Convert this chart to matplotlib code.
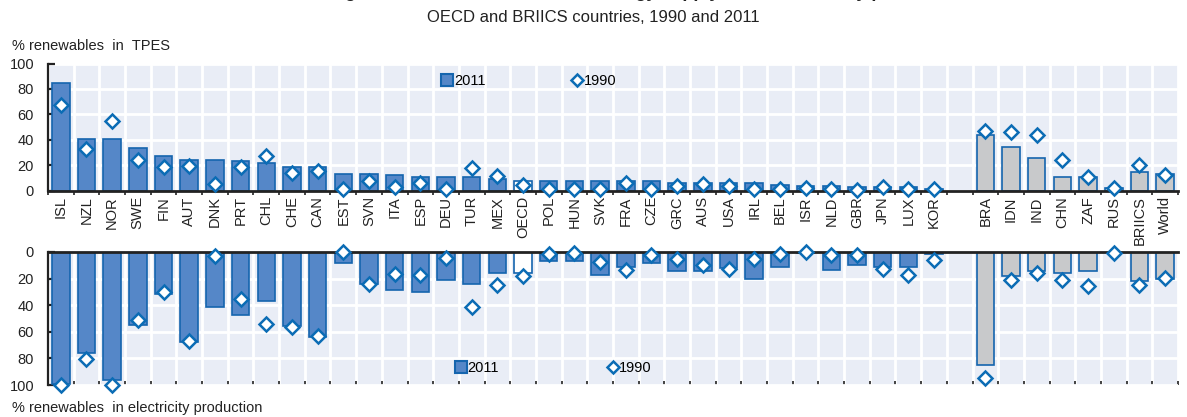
import numpy as np
import matplotlib
matplotlib.use('Agg')
import matplotlib.pyplot as plt
from matplotlib.lines import Line2D

plt.rcParams['font.family'] = ['Liberation Sans', 'DejaVu Sans']

# OECD countries (sorted by TPES share), then BRIICS group
oecd = ['ISL', 'NZL', 'NOR', 'SWE', 'FIN', 'AUT', 'DNK', 'PRT', 'CHL', 'CHE', 'CAN',
        'EST', 'SVN', 'ITA', 'ESP', 'DEU', 'TUR', 'MEX', 'OECD', 'POL', 'HUN', 'SVK',
        'FRA', 'CZE', 'GRC', 'AUS', 'USA', 'IRL', 'BEL', 'ISR', 'NLD', 'GBR', 'JPN',
        'LUX', 'KOR']
briics = ['BRA', 'IDN', 'IND', 'CHN', 'ZAF', 'RUS', 'BRIICS', 'World']

# % renewables in TPES
tpes_2011 = [85, 41, 41, 33.5, 27.5, 24.5, 24.5, 23, 21.5, 18.5, 18.5,
             13.5, 13.5, 12.2, 10.8, 10.8, 10.9, 9.5, 7.6, 7.6, 7.6, 7.6,
             7.6, 7.4, 5.8, 5.8, 5.8, 5.8, 4.3, 4.0, 4.0, 3.2, 3.0,
             3.0, 1.6]
tpes_1990 = [67, 32.5, 54.5, 24, 18.5, 19.5, 5, 19, 27, 14, 15.5,
             1, 7.8, 3.2, 5.8, 1, 17.8, 11.7, 4.8, 1, 1.2, 1,
             6, 1, 4, 5, 4, 1.5, 1, 2.4, 1, 0.5, 3,
             1, 1]
tpes_2011_b = [43.8, 34.7, 25.7, 10.6, 10.6, 2.4, 15, 13.5]
tpes_1990_b = [47, 46.4, 43.5, 24, 10.6, 2.4, 20.4, 12]

# % renewables in electricity production
elec_2011 = [99.5, 76, 96, 55, 31.7, 67.3, 41.7, 47.7, 37.2, 56, 63.6,
             8.3, 23.9, 28.9, 30.2, 21.4, 24.1, 15.8, 15.8, 7, 7, 17.6,
             11.6, 8.3, 14.6, 14.6, 12, 20.4, 11.6, 0.5, 13.3, 10, 11.6,
             11.6, 1.5]
elec_1990 = [100, 80.6, 100, 51.5, 30, 66.8, 3.3, 35, 54.5, 56.5, 63,
             0, 23.9, 16.6, 17.6, 4.5, 41, 25, 18.3, 1.3, 0.8, 7.5,
             13.8, 2, 5.3, 9.5, 12.6, 5.3, 1.5, 0, 2, 2, 12.6,
             17, 6.3]
elec_2011_b = [85, 18.3, 14, 15.8, 14.6, 0, 21.6, 20]
elec_1990_b = [95, 20.8, 15.8, 21.4, 25.4, 0.8, 24.6, 19.6]

BLUE = '#5587c8'
EDGE = '#1565ae'
GREY = '#c8c9cb'
DIAM = '#0b6cb5'
BG = '#e9edf6'

labels = oecd + [''] + briics
xo = np.arange(len(oecd))
xb = np.arange(len(briics)) + len(oecd) + 1
n = len(labels)

fig = plt.figure(figsize=(11.87, 4.17), dpi=100)
ax1 = fig.add_axes([0.0404, 0.5427, 0.952, 0.305])
ax2 = fig.add_axes([0.0404, 0.0767, 0.952, 0.319])


def oecd_colors():
    return ['white' if c == 'OECD' else BLUE for c in oecd]


def style(ax, top):
    ax.set_facecolor(BG)
    ax.set_xlim(-0.5, n - 0.5)
    ax.set_ylim(0, 100)
    ax.set_yticks([0, 20, 40, 60, 80, 100])
    ax.set_xticks(np.arange(n + 1) - 0.5, minor=True)
    ax.grid(True, which='minor', axis='x', color='white', lw=2)
    ax.grid(True, which='major', axis='y', color='white', lw=2)
    ax.set_axisbelow(True)
    for s in ['right', 'top', 'bottom']:
        ax.spines[s].set_visible(False)
    ax.spines['left'].set_color('#222222')
    ax.spines['left'].set_linewidth(1.6)
    ax.axhline(0, color='#222222', lw=2, zorder=5, clip_on=False)
    ax.tick_params(axis='y', direction='in', length=5, width=1.6, pad=10,
                   labelsize=10.5, colors='#222222')
    ax.tick_params(axis='x', which='minor', length=3, width=1.2, color='#222222',
                   direction='out' if top else 'in')


# top panel
ax1.bar(xo, tpes_2011, width=0.68, color=oecd_colors(), edgecolor=EDGE, lw=1.2, zorder=3)
ax1.bar(xb, tpes_2011_b, width=0.68, color=GREY, edgecolor=EDGE, lw=1.2, zorder=3)
ax1.plot(xo, tpes_1990, 'D', ms=7.5, mfc='white', mec=DIAM, mew=1.8, zorder=6, clip_on=False)
ax1.plot(xb, tpes_1990_b, 'D', ms=7.5, mfc='white', mec=DIAM, mew=1.8, zorder=6, clip_on=False)
style(ax1, True)
ax1.set_xticks(np.arange(n))
ax1.set_xticklabels(labels, rotation=90, fontsize=10.5, color='#222222')
ax1.tick_params(axis='x', which='major', length=0, pad=4)

# bottom panel (inverted)
ax2.bar(xo, elec_2011, width=0.68, color=oecd_colors(), edgecolor=EDGE, lw=1.2, zorder=3)
ax2.bar(xb, elec_2011_b, width=0.68, color=GREY, edgecolor=EDGE, lw=1.2, zorder=3)
ax2.plot(xo, elec_1990, 'D', ms=7.5, mfc='white', mec=DIAM, mew=1.8, zorder=6, clip_on=False)
ax2.plot(xb, elec_1990_b, 'D', ms=7.5, mfc='white', mec=DIAM, mew=1.8, zorder=6, clip_on=False)
style(ax2, False)
ax2.invert_yaxis()
ax2.set_xticks([])

# legends
h = [Line2D([], [], ls='none', marker='s', ms=8, mfc=BLUE, mec=EDGE, mew=1.5),
     Line2D([], [], ls='none', marker='D', ms=6.5, mfc='white', mec=DIAM, mew=1.8)]
ax1.legend(h, ['2011', '1990'], ncol=2, frameon=False, loc='center left',
           bbox_to_anchor=(0.343, 0.865), handlelength=0.6, handletextpad=0.15,
           columnspacing=6.0, fontsize=10.5, borderpad=0)
ax2.legend(h, ['2011', '1990'], ncol=2, frameon=False, loc='center left',
           bbox_to_anchor=(0.355, 0.13), handlelength=0.6, handletextpad=0.15,
           columnspacing=7.5, fontsize=10.5, borderpad=0)

fig.text(0.010, 0.874, '% renewables  in  TPES', fontsize=10.5, color='#222222', va='bottom')
fig.text(0.010, 0.005, '% renewables  in electricity production', fontsize=10.5,
         color='#222222', va='bottom')
fig.text(0.545, 1.018, 'Figure 4.3. Renewables in total energy supply and in electricity production',
         fontsize=13, fontweight='bold', ha='center', va='center', color='#222222')
fig.text(0.5, 0.94, 'OECD and BRIICS countries, 1990 and 2011', fontsize=12,
         ha='center', va='bottom', color='#222222')

fig.savefig('out.png', dpi=100)
